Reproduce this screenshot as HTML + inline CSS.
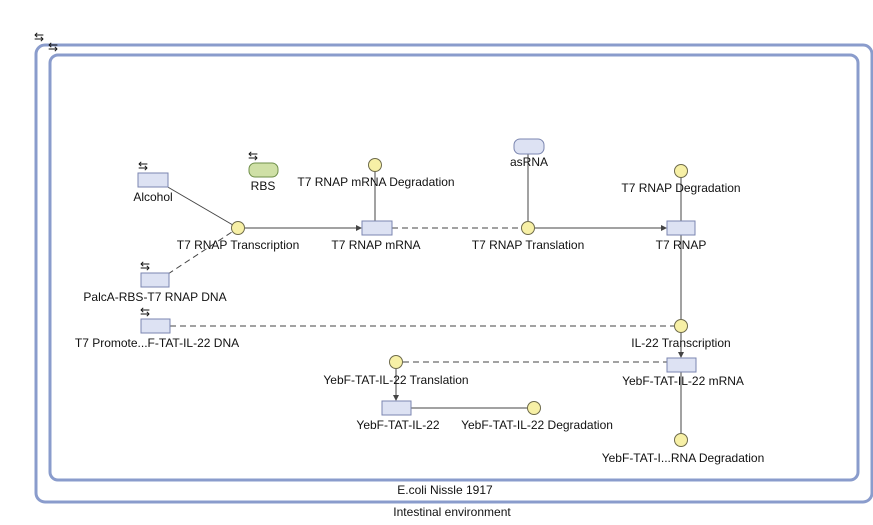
<!DOCTYPE html><html><head><style>body{margin:0;background:#fff}svg text{font-family:"Liberation Sans",sans-serif;font-size:12px;fill:#111}</style></head><body>
<svg width="873" height="520" xmlns="http://www.w3.org/2000/svg">
<defs><marker id="a" markerWidth="6" markerHeight="6" refX="5" refY="3" orient="auto"><path d="M0,0L6,3L0,6z" fill="#444"/></marker></defs>
<rect x="36" y="45" width="836" height="457" rx="9" fill="none" stroke="#8a9ccc" stroke-width="3"/>
<rect x="50" y="55" width="808" height="425" rx="8" fill="none" stroke="#8a9ccc" stroke-width="3"/>
<text x="34" y="41" font-size="9">⇆</text><text x="48" y="51" font-size="9">⇆</text>
<g stroke="#444" stroke-width="1" fill="none">
<line x1="166" y1="186" x2="238" y2="228"/>
<line x1="168" y1="274" x2="238" y2="228" stroke-dasharray="6,4"/>
<line x1="245" y1="228" x2="361" y2="228" marker-end="url(#a)"/>
<line x1="392" y1="228" x2="521" y2="228" stroke-dasharray="6,4"/>
<line x1="535" y1="228" x2="666" y2="228" marker-end="url(#a)"/>
<line x1="528" y1="154" x2="528" y2="221"/>
<line x1="375" y1="172" x2="375" y2="221"/>
<line x1="681" y1="178" x2="681" y2="221"/>
<line x1="681" y1="235" x2="681" y2="319"/>
<line x1="170" y1="326" x2="674" y2="326" stroke-dasharray="6,4"/>
<line x1="681" y1="333" x2="681" y2="357" marker-end="url(#a)"/>
<line x1="403" y1="362" x2="667" y2="362" stroke-dasharray="6,4"/>
<line x1="396" y1="369" x2="396" y2="400" marker-end="url(#a)"/>
<line x1="411" y1="408" x2="527" y2="408"/>
<line x1="681" y1="372" x2="681" y2="433"/>
</g>
<g fill="#dde2f3" stroke="#7b86b0">
<rect x="138" y="173" width="30" height="14"/>
<rect x="141" y="273" width="28" height="14"/>
<rect x="362" y="221" width="30" height="14"/>
<rect x="667" y="221" width="28" height="14"/>
<rect x="141" y="319" width="29" height="14"/>
<rect x="667" y="358" width="29" height="14"/>
<rect x="382" y="401" width="29" height="14"/>
<rect x="514" y="139" width="30" height="15" rx="6"/>
</g>
<rect x="249" y="163" width="29" height="14" rx="6" fill="#cfe0a6" stroke="#6f8f4a"/>
<g fill="#f7f0a6" stroke="#6d6a4a">
<circle cx="238" cy="228" r="6.5"/><circle cx="375" cy="165" r="6.5"/><circle cx="528" cy="228" r="6.5"/>
<circle cx="681" cy="171" r="6.5"/><circle cx="681" cy="326" r="6.5"/><circle cx="396" cy="362" r="6.5"/>
<circle cx="534" cy="408" r="6.5"/><circle cx="681" cy="440" r="6.5"/>
</g>
<g><text x="138" y="170" font-size="9">⇆</text><text x="248" y="160" font-size="9">⇆</text><text x="140" y="270" font-size="9">⇆</text><text x="140" y="316" font-size="9">⇆</text></g>
<g text-anchor="middle">
<text x="153" y="201">Alcohol</text><text x="263" y="190">RBS</text>
<text x="238" y="249">T7 RNAP Transcription</text>
<text x="155" y="301">PalcA-RBS-T7 RNAP DNA</text>
<text x="376" y="186">T7 RNAP mRNA Degradation</text>
<text x="376" y="249">T7 RNAP mRNA</text>
<text x="529" y="166">asRNA</text>
<text x="528" y="249">T7 RNAP Translation</text>
<text x="681" y="192">T7 RNAP Degradation</text>
<text x="681" y="249">T7 RNAP</text>
<text x="157" y="347">T7 Promote...F-TAT-IL-22 DNA</text>
<text x="681" y="347">IL-22 Transcription</text>
<text x="396" y="384">YebF-TAT-IL-22 Translation</text>
<text x="683" y="385">YebF-TAT-IL-22 mRNA</text>
<text x="398" y="429">YebF-TAT-IL-22</text>
<text x="537" y="429">YebF-TAT-IL-22 Degradation</text>
<text x="683" y="462">YebF-TAT-I...RNA Degradation</text>
<text x="445" y="494">E.coli Nissle 1917</text>
<text x="452" y="516">Intestinal environment</text>
</g>
</svg></body></html>
